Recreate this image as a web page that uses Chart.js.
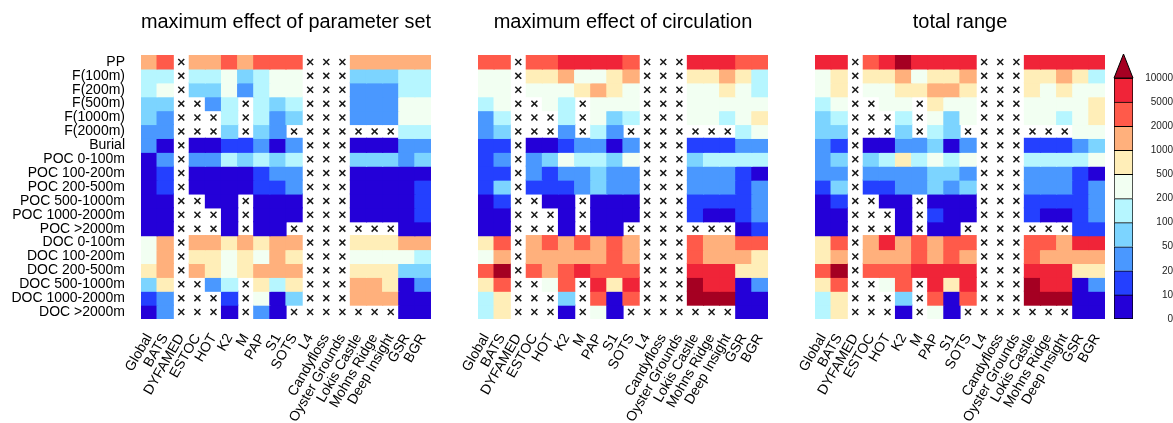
<!DOCTYPE html>
<html>
<head>
<meta charset="utf-8">
<script src="https://cdn.jsdelivr.net/npm/chart.js@4.4.0/dist/chart.umd.min.js"></script>
<style>
  body { margin: 0; background: #fff; }
  #wrap { position: relative; width: 1173px; height: 423px; overflow: hidden; }
  canvas { position: absolute; top: 0; }
</style>
</head>
<body>
<div id="wrap">
  <canvas id="p1" width="456" height="423" style="left:0px"></canvas>
  <canvas id="p2" width="353" height="423" style="left:440px"></canvas>
  <canvas id="p3" width="353" height="423" style="left:777px"></canvas>
  <canvas id="cb" width="68" height="423" style="left:1105px"></canvas>
</div>
<script>
// stations (columns) and variables (rows)
const stations = ['Global', 'BATS', 'DYFAMED', 'ESTOC', 'HOT', 'K2', 'M', 'PAP', 'S1', 'SOTS', 'L4',
  'Candyfloss', 'Oyster Grounds', 'Lokis Castle', 'Mohns Ridge', 'Deep Insight', 'GSR', 'BGR'];
const rowLabels = ['PP', 'F(100m)', 'F(200m)', 'F(500m)', 'F(1000m)', 'F(2000m)', 'Burial',
  'POC 0-100m', 'POC 100-200m', 'POC 200-500m', 'POC 500-1000m', 'POC 1000-2000m', 'POC >2000m',
  'DOC 0-100m', 'DOC 100-200m', 'DOC 200-500m', 'DOC 500-1000m', 'DOC 1000-2000m', 'DOC >2000m'];

// colour levels
const binEdges = [0, 10, 20, 50, 100, 200, 500, 1000, 2000, 5000, 10000];
const levelColors = ['#2400d8', '#2440ff', '#4a98ff', '#7cd4ff', '#b6f6ff', '#f2fff2',
  '#ffeeb8', '#ffb07c', '#ff5a4a', '#f02438', '#a50022'];

const X = null; // no data (drawn as a cross)

// maximum effect of parameter set
const paramSet = [
  [1500, 3500, X, 1500, 1500, 3500, 1500, 3500, 3500, 3500, X, X, X, 1500, 1500, 1500, 1500, 1500],
  [150, 150, X, 150, 150, 350, 75, 150, 350, 350, X, X, X, 75, 75, 75, 150, 150],
  [150, 350, X, 75, 75, 350, 35, 150, 350, 350, X, X, X, 35, 35, 35, 150, 150],
  [75, 75, X, X, 35, 150, X, 150, 75, 150, X, X, X, 35, 35, 35, 350, 350],
  [75, 35, X, X, X, 150, X, 150, 35, 75, X, X, X, 35, 35, 35, 350, 350],
  [35, 35, X, X, X, 75, X, 75, 35, X, X, X, X, X, X, X, 150, 150],
  [35, 5, X, 5, 5, 15, 15, 35, 5, 35, X, X, X, 5, 5, 5, 35, 35],
  [5, 35, X, 35, 35, 150, 75, 150, 75, 150, X, X, X, 75, 75, 75, 35, 75],
  [5, 15, X, 5, 5, 5, 5, 15, 35, 35, X, X, X, 5, 5, 5, 5, 5],
  [5, 15, X, 5, 5, 5, 5, 15, 15, 35, X, X, X, 5, 5, 5, 5, 15],
  [5, 5, X, X, 5, 5, X, 5, 5, 5, X, X, X, 5, 5, 5, 5, 15],
  [5, 5, X, X, X, 5, X, 5, 5, 5, X, X, X, 5, 5, 5, 5, 15],
  [5, 5, X, X, X, 5, X, 5, 5, X, X, X, X, X, X, X, 5, 5],
  [350, 1500, X, 1500, 1500, 750, 1500, 750, 1500, 1500, X, X, X, 750, 750, 750, 1500, 1500],
  [350, 1500, X, 750, 750, 350, 750, 350, 1500, 750, X, X, X, 350, 350, 350, 350, 150],
  [750, 1500, X, 1500, 750, 350, 750, 1500, 1500, 1500, X, X, X, 750, 750, 750, 75, 75],
  [75, 750, X, X, 35, 150, X, 750, 150, 750, X, X, X, 1500, 1500, 750, 5, 35],
  [15, 35, X, X, X, 15, X, 350, 5, 75, X, X, X, 1500, 1500, 1500, 5, 5],
  [5, 35, X, X, X, 5, X, 35, 5, X, X, X, X, X, X, X, 5, 5]
];

// maximum effect of circulation
const circulation = [
  [3500, 3500, X, 3500, 3500, 7500, 7500, 7500, 7500, 3500, X, X, X, 7500, 7500, 7500, 3500, 3500],
  [350, 350, X, 750, 750, 1500, 350, 350, 750, 1500, X, X, X, 750, 750, 1500, 750, 150],
  [350, 350, X, 350, 350, 350, 750, 1500, 750, 350, X, X, X, 350, 350, 750, 350, 150],
  [150, 350, X, X, 350, 150, X, 350, 350, 350, X, X, X, 350, 350, 350, 350, 350],
  [35, 150, X, X, X, 150, X, 350, 75, 150, X, X, X, 350, 350, 150, 350, 750],
  [35, 75, X, X, X, 35, X, 150, 35, X, X, X, X, X, X, X, 150, 350],
  [15, 15, X, 5, 5, 15, 35, 35, 5, 35, X, X, X, 15, 15, 15, 35, 35],
  [15, 35, X, 35, 75, 350, 150, 150, 75, 350, X, X, X, 75, 150, 150, 150, 150],
  [15, 15, X, 35, 15, 35, 35, 75, 35, 35, X, X, X, 35, 35, 35, 15, 5],
  [15, 75, X, 15, 15, 15, 35, 75, 35, 35, X, X, X, 35, 35, 35, 15, 35],
  [5, 15, X, X, 5, 5, X, 5, 5, 5, X, X, X, 15, 15, 15, 15, 35],
  [5, 5, X, X, X, 5, X, 5, 5, 5, X, X, X, 15, 5, 5, 15, 35],
  [5, 5, X, X, X, 5, X, 5, 5, X, X, X, X, X, X, X, 5, 15],
  [750, 3500, X, 1500, 3500, 1500, 3500, 1500, 3500, 1500, X, X, X, 3500, 1500, 1500, 3500, 3500],
  [350, 1500, X, 1500, 1500, 1500, 1500, 1500, 3500, 1500, X, X, X, 3500, 1500, 1500, 1500, 750],
  [3500, 15000, X, 3500, 1500, 3500, 7500, 3500, 3500, 3500, X, X, X, 7500, 7500, 7500, 750, 750],
  [750, 3500, X, X, 350, 3500, X, 7500, 750, 7500, X, X, X, 15000, 7500, 7500, 5, 35],
  [150, 750, X, X, X, 75, X, 3500, 5, 3500, X, X, X, 15000, 15000, 15000, 5, 5],
  [150, 750, X, X, X, 5, X, 350, 5, X, X, X, X, X, X, X, 5, 5]
];

// total range
const totalRange = [
  [7500, 7500, X, 3500, 7500, 15000, 7500, 7500, 7500, 7500, X, X, X, 7500, 7500, 7500, 7500, 7500],
  [350, 750, X, 750, 750, 1500, 350, 750, 750, 1500, X, X, X, 750, 750, 1500, 750, 150],
  [350, 750, X, 350, 350, 750, 750, 1500, 1500, 750, X, X, X, 750, 350, 750, 350, 350],
  [150, 350, X, X, 350, 350, X, 750, 350, 350, X, X, X, 350, 350, 350, 350, 750],
  [75, 150, X, X, X, 150, X, 350, 75, 350, X, X, X, 350, 350, 150, 350, 750],
  [75, 75, X, X, X, 75, X, 150, 75, X, X, X, X, X, X, X, 350, 350],
  [35, 15, X, 5, 5, 35, 35, 75, 5, 35, X, X, X, 15, 15, 15, 35, 75],
  [35, 75, X, 75, 150, 750, 150, 350, 150, 350, X, X, X, 150, 150, 150, 150, 350],
  [35, 35, X, 35, 35, 35, 35, 75, 75, 35, X, X, X, 35, 35, 35, 15, 5],
  [15, 75, X, 15, 15, 35, 35, 75, 35, 75, X, X, X, 35, 35, 35, 15, 35],
  [5, 15, X, X, 5, 5, X, 5, 5, 5, X, X, X, 15, 15, 15, 15, 35],
  [5, 5, X, X, X, 5, X, 15, 5, 5, X, X, X, 15, 5, 5, 15, 35],
  [5, 5, X, X, X, 5, X, 5, 5, X, X, X, X, X, X, X, 15, 15],
  [750, 3500, X, 1500, 7500, 1500, 3500, 1500, 3500, 3500, X, X, X, 3500, 3500, 1500, 7500, 7500],
  [750, 1500, X, 1500, 1500, 1500, 3500, 1500, 3500, 1500, X, X, X, 3500, 1500, 1500, 1500, 1500],
  [3500, 15000, X, 3500, 3500, 3500, 7500, 7500, 7500, 7500, X, X, X, 7500, 7500, 7500, 750, 750],
  [750, 3500, X, X, 350, 3500, X, 7500, 750, 7500, X, X, X, 15000, 7500, 7500, 5, 35],
  [150, 750, X, X, X, 75, X, 3500, 5, 3500, X, X, X, 15000, 15000, 15000, 5, 5],
  [150, 750, X, X, X, 5, X, 350, 5, X, X, X, X, X, X, X, 5, 5]
];

Chart.defaults.font.family = '"Liberation Sans", Arial, Helvetica, sans-serif';
Chart.defaults.color = '#000';

// pick the colour of the bin a value falls in
function colorFor(v) {
  if (v === null) return 'rgba(0,0,0,0)';
  let i = 0;
  while (i < binEdges.length - 1 && v >= binEdges[i + 1]) i++;
  return levelColors[i];
}

// one heat map panel: each row is a dataset of floating bars [r, r+1]
function makePanel(id, title, values, showRows, cellLeft, cellRight) {
  const canvas = document.getElementById(id);
  const left = parseInt(canvas.style.left, 10);

  const datasets = rowLabels.map((row, r) => ({
    type: 'bar',
    label: row,
    data: values[r].map(v => (v === null ? null : [r, r + 1])),
    backgroundColor: values[r].map(colorFor),
    borderWidth: 0,
    inflateAmount: 0.6,
    barPercentage: 1,
    categoryPercentage: 1,
    grouped: false
  }));

  // crosses where there is no value
  const crosses = [];
  values.forEach((rowVals, r) => {
    rowVals.forEach((v, c) => {
      if (v === null) crosses.push({ x: stations[c], y: r + 0.5 });
    });
  });
  datasets.push({
    type: 'scatter',
    data: crosses,
    order: -1,
    pointStyle: 'crossRot',
    radius: 4.2,
    borderWidth: 1.5,
    borderColor: '#1a1a1a',
    backgroundColor: '#1a1a1a'
  });

  return new Chart(canvas, {
    type: 'bar',
    data: { labels: stations, datasets },
    options: {
      responsive: false,
      animation: false,
      events: [],
      layout: {
        padding: { left: 0, right: left + canvas.width - cellRight, top: 0, bottom: 0 }
      },
      plugins: {
        legend: { display: false },
        tooltip: { enabled: false },
        title: {
          display: true,
          text: title,
          fullSize: false,
          font: { size: 20, weight: 'normal' },
          padding: { top: 10, bottom: 21 }
        }
      },
      scales: {
        x: {
          type: 'category',
          offset: true,
          grid: { display: false, drawTicks: false },
          border: { display: false },
          ticks: { autoSkip: false, minRotation: 60, maxRotation: 60, padding: 12, font: { size: 14 } },
          afterFit: s => { s.height = 104; }
        },
        y: {
          type: 'linear',
          min: 0,
          max: rowLabels.length,
          reverse: true,
          grid: { display: false, drawTicks: false },
          border: { display: false },
          afterBuildTicks: s => { s.ticks = rowLabels.map((r, i) => ({ value: i + 0.5 })); },
          ticks: {
            display: showRows,
            autoSkip: false,
            padding: 16,
            font: { size: 14 },
            callback: v => rowLabels[Math.floor(v)]
          },
          afterFit: s => { s.width = cellLeft - left; }
        }
      }
    }
  });
}

makePanel('p1', 'maximum effect of parameter set', paramSet, true, 141, 431);
makePanel('p2', 'maximum effect of circulation', circulation, false, 478, 768);
makePanel('p3', 'total range', totalRange, false, 815, 1105);

// colour bar: one floating bar per level, triangle on top for > 10000
const arrowPlugin = {
  id: 'arrow',
  afterDatasetsDraw(chart) {
    const { ctx } = chart;
    const y = chart.scales.y;
    const bar = chart.getDatasetMeta(0).data[0];
    const half = bar.width / 2;
    const yBase = y.getPixelForValue(binEdges.length - 1);
    const yTip = y.getPixelForValue(binEdges.length);
    ctx.save();
    ctx.beginPath();
    ctx.moveTo(bar.x - half, yBase);
    ctx.lineTo(bar.x, yTip);
    ctx.lineTo(bar.x + half, yBase);
    ctx.closePath();
    ctx.fillStyle = levelColors[levelColors.length - 1];
    ctx.fill();
    ctx.lineWidth = 1;
    ctx.strokeStyle = '#000';
    ctx.stroke();
    ctx.restore();
  }
};

new Chart(document.getElementById('cb'), {
  type: 'bar',
  data: {
    labels: ['level'],
    datasets: levelColors.slice(0, binEdges.length - 1).map((col, i) => ({
      data: [[i, i + 1]],
      backgroundColor: col,
      borderColor: '#000',
      borderWidth: { top: 1, left: 1, right: 1, bottom: i === 0 ? 1 : 0 },
      borderSkipped: false,
      barPercentage: 1,
      categoryPercentage: 1,
      grouped: false
    }))
  },
  options: {
    responsive: false,
    animation: false,
    events: [],
    layout: { padding: { left: 9, right: 0, top: 54, bottom: 104 } },
    plugins: { legend: { display: false }, tooltip: { enabled: false } },
    scales: {
      x: { display: false, offset: true },
      y: {
        position: 'right',
        min: 0,
        max: binEdges.length,
        grid: { display: false, drawTicks: false },
        border: { display: false },
        afterBuildTicks: s => { s.ticks = binEdges.map((e, i) => ({ value: i })); },
        ticks: {
          autoSkip: false,
          crossAlign: 'far',
          padding: 11,
          color: '#222',
          font: { size: 10 },
          callback: v => String(binEdges[v])
        },
        afterFit: s => { s.width = 40; }
      }
    }
  },
  plugins: [arrowPlugin]
});
</script>
</body>
</html>
